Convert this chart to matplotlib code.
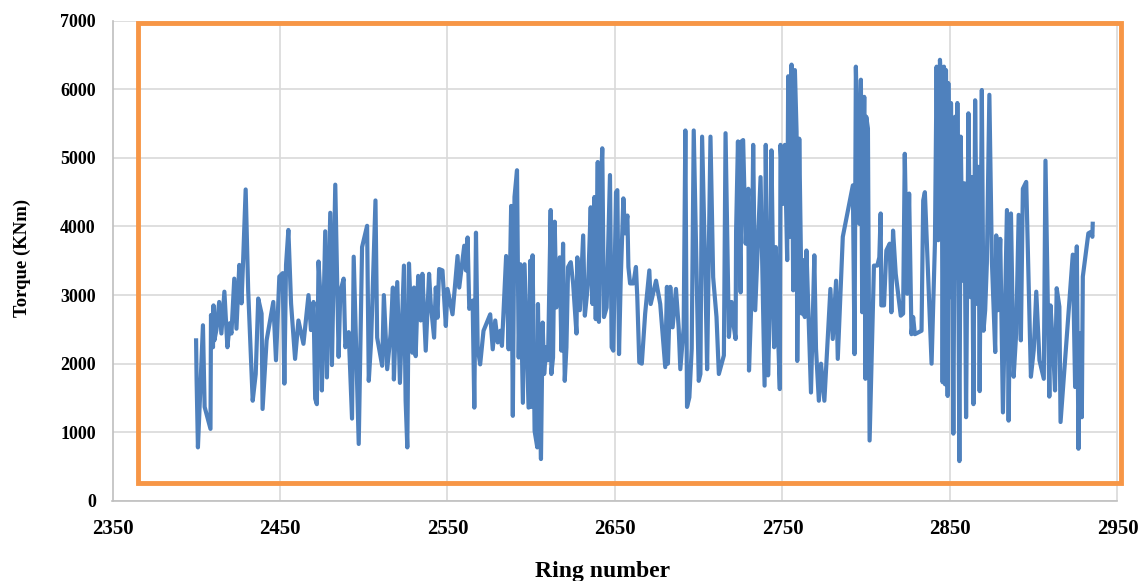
import matplotlib
matplotlib.use("Agg")
import matplotlib.pyplot as plt
from matplotlib.patches import Rectangle

# Ring number / torque series
ring = [
    2399.9, 2400.2, 2401, 2404, 2405, 2408.5, 2408.8, 2410, 2410.3, 2410.8, 2412, 2413.7, 2415, 2416.8,
    2418.6, 2420, 2421, 2422.7, 2424, 2425.7, 2427, 2428, 2429.5, 2431, 2433.7, 2435.5, 2437, 2439,
    2439.6, 2442, 2446, 2447.6, 2449.6, 2451.6, 2452.6, 2453.6, 2455, 2456.6, 2459, 2461, 2464, 2467,
    2468.5, 2470, 2471, 2472, 2473, 2474, 2475, 2477, 2478, 2480, 2481, 2483, 2485, 2486, 2488, 2489,
    2491, 2493, 2494, 2497,
    2499, 2502, 2503, 2504.4, 2507, 2508, 2511, 2512, 2514, 2516, 2517.4, 2518, 2520, 2521.6, 2523,
    2524, 2525, 2526, 2527, 2529, 2530, 2531, 2532.5, 2534, 2535, 2537, 2539, 2540, 2542, 2543, 2544,
    2545, 2547, 2549, 2550, 2553, 2556, 2557, 2560, 2561, 2562, 2563, 2565, 2566, 2567, 2568, 2569.5,
    2571.5, 2575.5, 2577, 2578.5, 2580, 2581.5, 2582.5, 2585, 2586.5, 2588, 2589, 2590, 2591.5, 2592.5,
    2593.5, 2595, 2596, 2598.4, 2599.4,
    2600, 2600.8, 2602, 2603.6, 2604, 2604.8, 2605.8, 2606.8, 2607.7, 2609, 2610, 2611.6, 2612, 2613,
    2614, 2615, 2617, 2618, 2619, 2620, 2621, 2622, 2623.6, 2625, 2627, 2627.5, 2629, 2631, 2632, 2634,
    2635.5, 2636.6, 2637.7, 2638.5, 2639.7, 2640.4, 2641.4, 2642.4, 2643.4, 2645, 2647, 2648, 2649,
    2650.6, 2651.4, 2652.4, 2653.4, 2655, 2656, 2657.4, 2658, 2659, 2661, 2662.5, 2663.3, 2664.5, 2666,
    2668, 2670.5, 2671.3, 2674.5, 2677, 2680, 2681, 2681.6, 2683, 2684.4, 2686.4, 2688, 2689, 2691,
    2692, 2693, 2694.4, 2695.8, 2697, 2700, 2701, 2702,
    2704, 2705, 2707, 2708.6, 2710.6, 2712, 2715, 2716, 2718, 2719.6, 2721, 2722, 2722.3, 2723.4, 2725,
    2725.5, 2726.5, 2728, 2729.6, 2730, 2731.5, 2732.5, 2733.7, 2736.9, 2739.3, 2740, 2741.4, 2742.4,
    2743.4, 2745, 2746, 2747, 2748.4, 2748.8, 2750.4, 2751.4, 2752.8, 2753.4, 2754.4, 2755.4, 2756.4,
    2757.4, 2758.4, 2758.8, 2760, 2761.5, 2762.3, 2763.3, 2764.3, 2767, 2769, 2770, 2771.7, 2773, 2775,
    2778.6, 2780, 2782, 2783, 2786, 2792, 2793, 2793.8, 2795.8, 2796.8, 2797.6, 2798.8, 2799.5, 2800,
    2801, 2802,
    2804.6, 2806.6, 2807.8, 2808.6, 2809, 2810.6, 2812, 2814, 2815, 2816, 2817.6, 2820.6, 2822, 2823,
    2824.5, 2825.6, 2827, 2828, 2829, 2833, 2834, 2835, 2839, 2841, 2842, 2843, 2844, 2845, 2845.6,
    2846.4, 2847, 2847.6, 2848.6, 2849, 2850, 2850.6, 2852, 2853, 2854, 2854.4, 2855.6, 2856.4, 2857.6,
    2858.6, 2859.6, 2861, 2862.3, 2863, 2864, 2865, 2866.3, 2867, 2867.7, 2869, 2870, 2871, 2872,
    2873.5, 2875, 2877, 2877.6, 2878.6, 2880,
    2881.6, 2884, 2885, 2886.4, 2888, 2889.5, 2891, 2892.3, 2893.5, 2895.5, 2898.3, 2900, 2901.5,
    2903.4, 2906, 2907, 2909.3, 2910, 2911.7, 2912.7, 2913.7, 2915.3, 2916, 2923.3, 2924.7, 2925.7,
    2926.7, 2927.7, 2928.7, 2929.3, 2932.6, 2934, 2935, 2935.2,
]
torque = [
    2340, 1780, 780, 2560, 1370, 1050, 2710, 2240, 2850, 2340, 2490, 2900, 2440, 3050,
    2240, 2590, 2440, 3240, 2510, 3440, 2880, 3510, 4540, 3070, 1460, 1850, 2950, 2730,
    1340, 2340, 2900, 2050, 3270, 3320, 1710, 3440, 3950, 2880, 2070, 2630, 2290, 3000,
    2490, 2900, 1490, 1410, 3490, 3050, 1610, 3930, 1800, 4200, 1980, 4610, 2100, 3050, 3240, 2240,
    2460, 1200, 3560, 830,
    3700, 4010, 1750, 2330, 4380, 2380, 1970, 3000, 1920, 2430, 3110, 1770, 3190, 1720, 2720,
    3430, 1460, 780, 3460, 2160, 3110, 2110, 3280, 2630, 3310, 2190, 3310, 2870, 2380, 3110, 2670,
    3380, 3360, 2550, 3090, 2720, 3570, 3110, 3720, 3360, 3840, 2800, 2920, 1360, 3910, 2240, 1990,
    2480, 2720, 2210, 2630, 2310, 2480, 2260, 3570, 2210, 4300, 1240, 4430, 4820, 2090,
    3450, 1430, 3450, 1360, 3500,
    1370, 3580, 1020, 780, 2870, 1660, 610, 2600, 1850, 2240, 2050, 4240, 1850, 2090,
    4070, 2820, 3550, 2190, 3750, 1750, 2240, 3410, 3480, 3170, 2440, 3550, 2780, 3870, 2700, 3190,
    4280, 2870, 4430, 2650, 4940, 2610, 4430, 5140, 2680, 2820, 4750, 2240, 2190,
    4500, 4530, 2140, 3210, 4410, 3900, 4160, 3410, 3170, 3170, 3410, 2970, 2020, 2000,
    2730, 3360, 2870, 3210, 2870, 1950, 3120, 2000, 3120, 2530, 3090, 2530, 1920, 2530,
    5400, 1370, 1510, 2220, 5400, 1750, 1850, 5310,
    3210, 1920, 5310, 3260, 2680, 1850, 2120, 5360, 2390, 2900, 2530, 2360, 3940, 5240, 3040,
    5240, 5260, 3750, 4550, 1900, 2970, 5190, 2780, 4720, 1680, 5190, 1830, 2780,
    5110, 2240, 3700, 2680, 1630, 5190, 4330, 5190, 3510, 6190, 3850, 6360, 3070,
    6280, 5380, 2040, 5280, 2730, 3510, 2680, 3650, 1580, 3580, 2220, 1460, 2000, 1460,
    3090, 2360, 3210, 2070, 3850, 4600, 2140, 6330, 4040, 6140, 2750, 5890, 1780, 5600,
    5430, 880,
    3430, 3430, 3550, 4190, 2850, 2850, 3650, 3750, 2750, 3940, 3310, 2700, 2730, 5060,
    3020, 4480, 2430, 2680, 2430, 2480, 4380, 4500, 2000, 3750, 6330, 3800, 6430, 5990, 1730,
    6330, 1700, 6280, 1530, 6090, 2970, 5800, 980, 5600, 3260, 5800, 580, 5310, 3210,
    4630, 1220, 5650, 2970, 4720, 1410, 5840, 2870, 4870, 1600, 5990, 2480, 2780, 3460,
    5920, 3500, 2170, 3870, 2780, 3820,
    1290, 4240, 1170, 4190, 1810, 2440, 4170, 2340, 4550, 4650, 1810, 2200, 3050,
    2050, 1780, 4960, 1520, 2850, 2150, 1610, 3100, 2830, 1150, 3590, 1660, 3710,
    760, 2440, 1220, 3270, 3900, 3920, 3850, 4040,
]

x_ticks = [2350, 2450, 2550, 2650, 2750, 2850, 2950]
y_ticks = [0, 1000, 2000, 3000, 4000, 5000, 6000, 7000]
x_label = "Ring number"
y_label = "Torque (KNm)"

plt.rcParams['font.family'] = ['Liberation Serif', 'DejaVu Serif']
plt.rcParams['font.weight'] = 'bold'

fig = plt.figure(figsize=(11.41, 5.81), dpi=100)
ax = fig.add_axes([112.5 / 1141, 1 - 500.9 / 581, 1005 / 1141, (500.9 - 20.7) / 581])

ax.plot(ring, torque, color='#4f81bd', lw=3.0, solid_joinstyle='round', zorder=3)

ax.set_xlim(2350, 2950)
ax.set_ylim(0, 7000)
ax.set_xticks(x_ticks)
ax.set_yticks(y_ticks)
ax.grid(True, color='#d9d9d9', lw=1.2, zorder=0)
ax.set_axisbelow(True)
for s in ['top', 'right']:
    ax.spines[s].set_visible(False)
for s in ['left', 'bottom']:
    ax.spines[s].set_color('#bfbfbf')
    ax.spines[s].set_linewidth(1.2)
ax.tick_params(axis='both', length=0)
ax.tick_params(axis='x', labelsize=15, pad=13)
ax.tick_params(axis='y', labelsize=13, pad=12)
for lab in ax.get_xticklabels() + ax.get_yticklabels():
    lab.set_fontweight('bold')

fig.text(603 / 1141, 1 - 571 / 581, x_label, ha='center', va='center',
         fontsize=17, fontweight='bold')
fig.text(22 / 1141, 1 - 258 / 581, y_label, ha='center', va='center', rotation=90,
         fontsize=13.5, fontweight='bold')

# orange frame drawn over the plotting area
rect = Rectangle((138 / 1141, 1 - 483 / 581), (1121 - 138) / 1141, (483 - 23) / 581,
                 transform=fig.transFigure, fill=False, edgecolor='#f79646', lw=3.5, zorder=5)
fig.add_artist(rect)

fig.savefig('out.png', dpi=100)
